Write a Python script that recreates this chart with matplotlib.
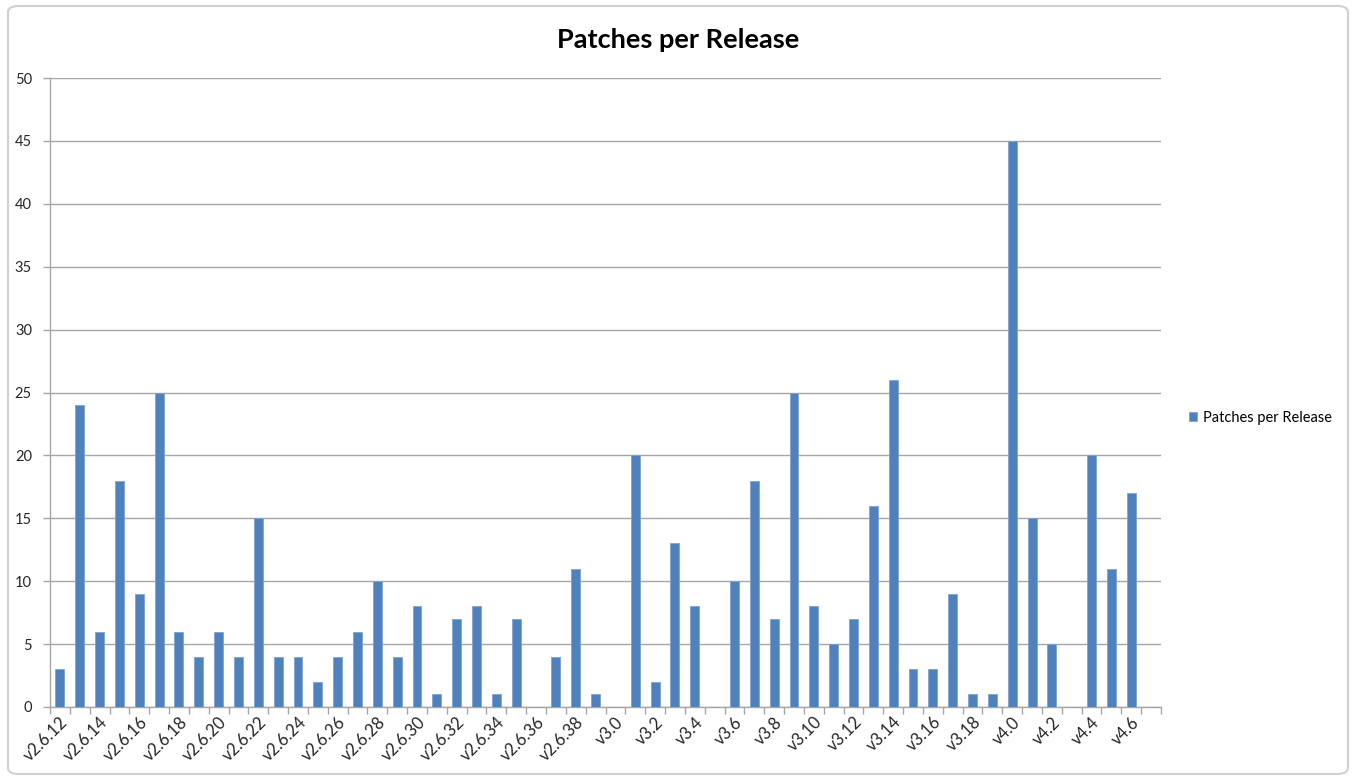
import matplotlib
matplotlib.use("Agg")
import matplotlib.pyplot as plt
import matplotlib.patches as mpatches
import numpy as np

plt.rcParams['font.family'] = ['Lato', 'DejaVu Sans']

releases = ["v2.6.%d" % n for n in range(12, 40)] + \
           ["v3.%d" % n for n in range(0, 20)] + \
           ["v4.%d" % n for n in range(0, 8)]

patches = [3, 24, 6, 18, 9, 25, 6, 4, 6, 4, 15, 4, 4, 2, 4, 6, 10, 4, 8, 1,
           7, 8, 1, 7, 0, 4, 11, 1,
           0, 20, 2, 13, 8, 0, 10, 18, 7, 25, 8, 5, 7, 16, 26, 3, 3, 9, 1, 1,
           45, 15, 5, 0, 20, 11, 17, 0]

series_name = "Patches per Release"
bar_color = "#4F81BD"
grid_color = "#A6A6A6"

fig = plt.figure(figsize=(13.56, 7.8), dpi=100)
ax = fig.add_axes([50 / 1356, 1 - 707 / 780, 1111 / 1356, 629 / 780])

x = np.arange(len(releases))
ax.bar(x, patches, width=0.45, color=bar_color, edgecolor="#7FA3D0",
       linewidth=0.6, label=series_name, zorder=3)

ax.set_xlim(-0.5, len(releases) - 0.5)
ax.set_ylim(0, 50)
ax.set_yticks(np.arange(0, 51, 5))
ax.yaxis.grid(True, color=grid_color, linewidth=1.0, zorder=0)
ax.set_axisbelow(True)

# ticks on category boundaries, labels on every second category
ax.set_xticks(np.arange(-0.5, len(releases), 1.0))
ax.set_xticklabels([])
ax.set_xticks(x[::2], minor=True)
ax.set_xticklabels(releases[::2], minor=True, rotation=45, ha="right",
                   va="top", rotation_mode="anchor", fontsize=12,
                   color="#262626")
ax.tick_params(axis="x", which="minor", length=0, pad=5)
ax.tick_params(axis="x", which="major", length=5, color=grid_color, width=1)
ax.tick_params(axis="y", length=5, color=grid_color, width=1, pad=8,
               labelsize=10.5, labelcolor="#262626")

for side in ["top", "right"]:
    ax.spines[side].set_visible(False)
for side in ["left", "bottom"]:
    ax.spines[side].set_color(grid_color)
    ax.spines[side].set_linewidth(1.0)

fig.text(0.5, 1 - 40 / 780, series_name, ha="center", va="center",
         fontsize=19.5, fontweight="bold", color="black")

leg = fig.legend(loc="center left", bbox_to_anchor=(1176 / 1356, 1 - 418 / 780),
                 frameon=False, fontsize=10.5, handlelength=0.55, handleheight=0.55,
                 handletextpad=0.4)

border = mpatches.FancyBboxPatch((8 / 1356, 6 / 780), 1340 / 1356, 768 / 780,
                                 boxstyle="round,pad=0,rounding_size=0.008",
                                 transform=fig.transFigure, facecolor="none",
                                 edgecolor="#D0D0D0", linewidth=1.5)
fig.patches.append(border)

fig.savefig("out.png", dpi=100)
